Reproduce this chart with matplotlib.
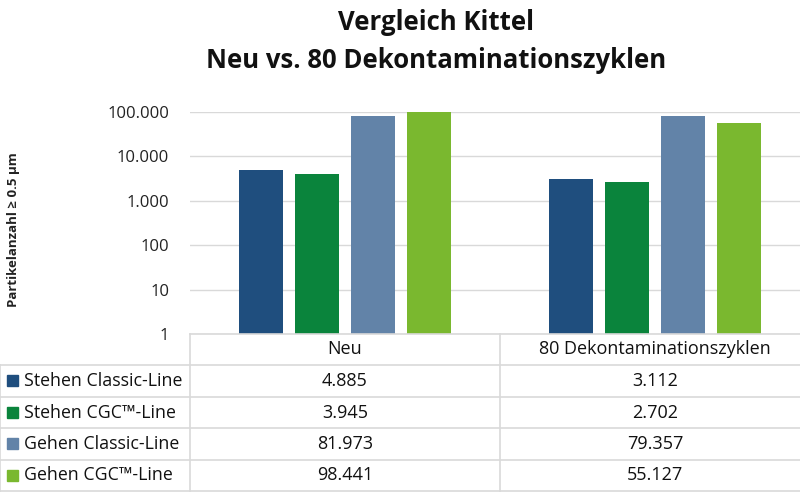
import numpy as np
import matplotlib.pyplot as plt
from matplotlib.lines import Line2D
from matplotlib.patches import Rectangle
from matplotlib.ticker import FixedLocator, FixedFormatter

plt.rcParams["font.family"] = ["Open Sans", "DejaVu Sans"]

categories = ["Neu", "80 Dekontaminationszyklen"]
series = ["Stehen Classic-Line", "Stehen CGC\u2122-Line", "Gehen Classic-Line", "Gehen CGC\u2122-Line"]
values = [
    [4885, 3112],
    [3945, 2702],
    [81973, 79357],
    [98441, 55127],
]
colors = ["#1F4E7E", "#0A843C", "#6283A8", "#7AB82F"]
yticks = [1, 10, 100, 1000, 10000, 100000]
ytick_labels = ["1", "10", "100", "1.000", "10.000", "100.000"]
title_lines = ["Vergleich Kittel", "Neu vs. 80 Dekontaminationszyklen"]


def fmt(v):
    return f"{v:,}".replace(",", ".")


W, H = 800, 500
fig = plt.figure(figsize=(8, 5), dpi=100)

# plot area in pixel coords
x0, x1 = 190, 800
ytop, ybot = 112, 334
ax = fig.add_axes([x0 / W, 1 - ybot / H, (x1 - x0) / W, (ybot - ytop) / H])

cat_w = 310  # pixel width per category
bar_w = 44 / cat_w
step = 56 / cat_w
x = np.arange(len(categories))
for i, (s, c) in enumerate(zip(series, colors)):
    ax.bar(x + (i - 1.5) * step, values[i], width=bar_w, color=c, zorder=3)

ax.set_yscale("log")
ax.set_ylim(1, 100000)
ax.set_xlim(-0.5, -0.5 + (x1 - x0) / cat_w)
ax.yaxis.set_major_locator(FixedLocator(yticks))
ax.yaxis.set_major_formatter(FixedFormatter(ytick_labels))
ax.yaxis.set_minor_locator(FixedLocator([]))
ax.tick_params(axis="y", length=0, labelsize=12, pad=15, colors="#222222")
ax.set_xticks([])
ax.grid(axis="y", color="#D9D9D9", linewidth=1, zorder=0)
for side in ["top", "right", "left", "bottom"]:
    ax.spines[side].set_visible(False)

fig.text(14 / W, 1 - 230 / H, "Partikelanzahl \u2265 0.5 \u00b5m", rotation=90,
         ha="center", va="center", fontsize=9.5, fontweight="bold", color="#222222")

for k, (t, yp) in enumerate(zip(title_lines, [22, 60])):
    fig.text(436 / W, 1 - yp / H, t, ha="center", va="center", fontsize=18.5,
             fontweight="bold", color="#111111")

# data table
lc = "#D9D9D9"
rows_y = [334, 365, 397, 428, 460, 491]
def hline(y, xa, xb):
    fig.add_artist(Line2D([xa / W, xb / W], [1 - y / H, 1 - y / H], color=lc, lw=1.2))
def vline(xp, ya, yb):
    fig.add_artist(Line2D([xp / W, xp / W], [1 - ya / H, 1 - yb / H], color=lc, lw=1.2))

hline(rows_y[0], x0, W)
for y in rows_y[1:]:
    hline(y, 0, W)
vline(0, rows_y[1], rows_y[-1])
vline(x0, rows_y[0], rows_y[-1])
vline(x0 + cat_w, rows_y[0], rows_y[-1])

col_cx = [x0 + cat_w / 2, x0 + 1.5 * cat_w]
for j, cat in enumerate(categories):
    fig.text(col_cx[j] / W, 1 - (rows_y[0] + rows_y[1]) / 2 / H, cat,
             ha="center", va="center", fontsize=13, color="#111111")
for i, s in enumerate(series):
    yc = (rows_y[i + 1] + rows_y[i + 2]) / 2
    fig.add_artist(Rectangle((7 / W, 1 - (yc + 5) / H), 11 / W, 11 / H,
                             transform=fig.transFigure, color=colors[i]))
    fig.text(24 / W, 1 - yc / H, s, ha="left", va="center", fontsize=12.8, color="#111111")
    for j in range(len(categories)):
        fig.text(col_cx[j] / W, 1 - yc / H, fmt(values[i][j]),
                 ha="center", va="center", fontsize=13, color="#111111")

fig.savefig("out.png", dpi=100)
